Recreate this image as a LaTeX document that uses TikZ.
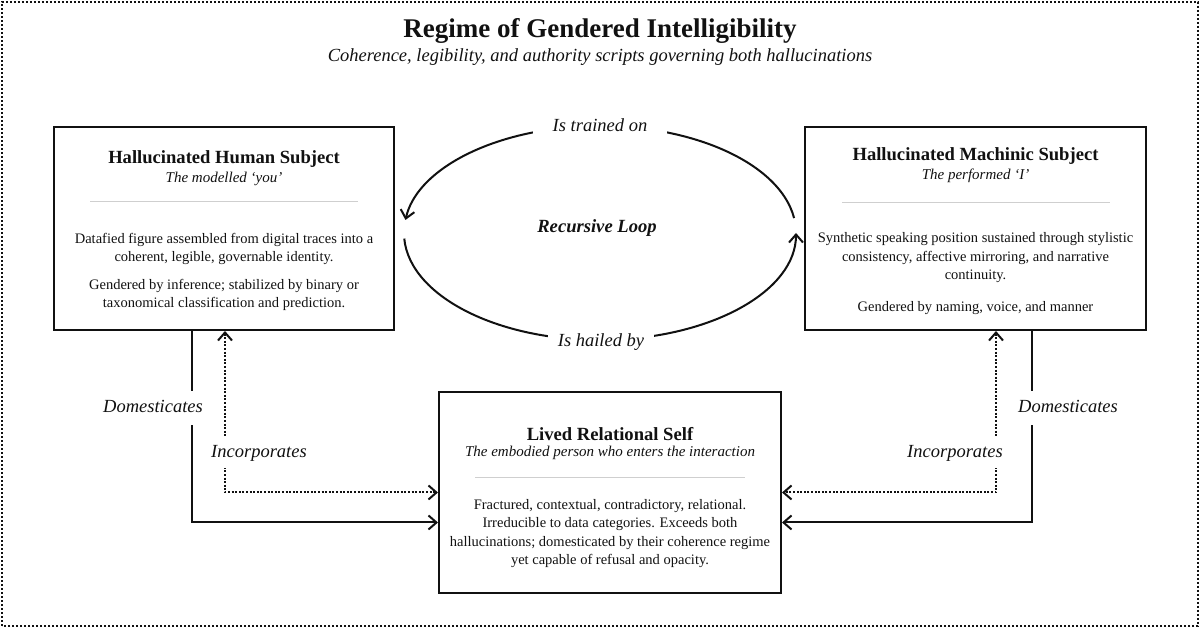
\documentclass[tikz,border=0pt]{standalone}
\usepackage{fontspec}
\setmainfont{Liberation Serif}
\usetikzlibrary{arrows.meta,calc}
\definecolor{ink}{HTML}{111111}
\definecolor{rulegrey}{HTML}{CFCFCF}
\tikzset{
  box/.style={draw=ink, line width=2pt, inner sep=0pt, fill=none},
  boxtitle/.style={anchor=base, font=\fontsize{18.6}{22}\selectfont\bfseries},
  boxsub/.style={anchor=base, font=\fontsize{15}{18}\selectfont\itshape},
  body/.style={anchor=base, align=center, font=\fontsize{14.5}{18.5}\selectfont},
  seprule/.style={draw=rulegrey, line width=1pt},
  conn/.style={draw=ink, line width=2pt, -{Straight Barb[length=8pt,width=14pt]}},
  dotconn/.style={draw=ink, line width=2pt, dash pattern=on 2pt off 1.6pt,
     {Straight Barb[length=8pt,width=14pt]}-{Straight Barb[length=8pt,width=14pt]}},
  lbl/.style={fill=white, font=\fontsize{18.5}{22}\selectfont\itshape, inner xsep=1pt,
     text height=13pt, text depth=4pt},
}
\begin{document}
\begin{tikzpicture}[x=1pt,y=1pt,text=ink]
\useasboundingbox (0,0) rectangle (1200,628);
\draw[ink, line width=2pt, dash pattern=on 2pt off 2pt] (2,2) rectangle (1198,626);

% title
\node[anchor=base, font=\fontsize{27}{30}\selectfont\bfseries] (title) at (600,590) {Regime of Gendered Intelligibility};
\node[anchor=base, font=\fontsize{18.5}{22}\selectfont\itshape] (subtitle) at (600,566) {Coherence, legibility, and authority scripts governing both hallucinations};

% boxes
\node[box, minimum width=340pt, minimum height=203pt] (hh) at (224,399.5) {};
\node[box, minimum width=341pt, minimum height=203pt] (hm) at (975.5,399.5) {};
\node[box, minimum width=342pt, minimum height=201pt] (lrs) at (610,135.5) {};

% left box content
\node[boxtitle] (hht) at (224,464) {Hallucinated Human Subject};
\node[boxsub] (hhs) at (224,445) {The modelled ‘you’};
\draw[seprule] (90,426) -- (358,426);
\node[body] (hhb1) at (224,366) {Datafied figure assembled from digital traces into a\\coherent, legible, governable identity.};
\node[body] (hhb2) at (224,320) {Gendered by inference; stabilized by binary or\\taxonomical classification and prediction.};

% right box content
\node[boxtitle] (hmt) at (975.5,467) {Hallucinated Machinic Subject};
\node[boxsub] (hms) at (975.5,448) {The performed ‘I’};
\draw[seprule] (842,425) -- (1110,425);
\node[body] (hmb1) at (975.5,348) {Synthetic speaking position sustained through stylistic\\consistency, affective mirroring, and narrative\\continuity.};
\node[body] (hmb2) at (975.5,316) {Gendered by naming, voice, and manner};

% middle box content
\node[boxtitle] (lrst) at (610,187) {Lived Relational Self};
\node[boxsub] (lrss) at (610,171) {The embodied person who enters the interaction};
\draw[seprule] (475,150) -- (745,150);
\node[body] (lrsb) at (610,63) {Fractured, contextual, contradictory, relational.\\Irreducible to data categories. Exceeds both\\hallucinations; domesticated by their coherence regime\\yet capable of refusal and opacity.};

% recursive loop
\coordinate (lc) at (600,395);
\draw[conn] ($(lc)+(8:196 and 107)$) arc[start angle=8, end angle=173, x radius=196, y radius=107];
\draw[conn] ($(lc)+(183:196 and 107)$) arc[start angle=183, end angle=360, x radius=196, y radius=107];
\node[lbl, inner xsep=20pt] (train) at (600,501) {Is trained on};
\node[lbl, inner xsep=10pt] (hail) at (601,286) {Is hailed by};
\node[anchor=base, font=\fontsize{18.6}{22}\selectfont\bfseries\itshape] (loop) at (597,395) {Recursive Loop};

% left connectors
\draw[conn] ([xshift=-32pt]hh.south) |- ([yshift=-30pt]lrs.west);
\draw[dotconn] ([xshift=1pt]hh.south) |- (lrs.west);
\node[lbl, inner ysep=8.5pt] (dom1) at (153,220) {Domesticates};
\node[lbl, inner ysep=7pt] (inc1) at (259,175) {Incorporates};

% right connectors
\draw[conn] ([xshift=56.5pt]hm.south) |- ([yshift=-30pt]lrs.east);
\draw[dotconn] ([xshift=20.5pt]hm.south) |- (lrs.east);
\node[lbl, inner ysep=8.5pt] (dom2) at (1068,220) {Domesticates};
\node[lbl, inner ysep=7pt] (inc2) at (955,175) {Incorporates};
\end{tikzpicture}
\end{document}
